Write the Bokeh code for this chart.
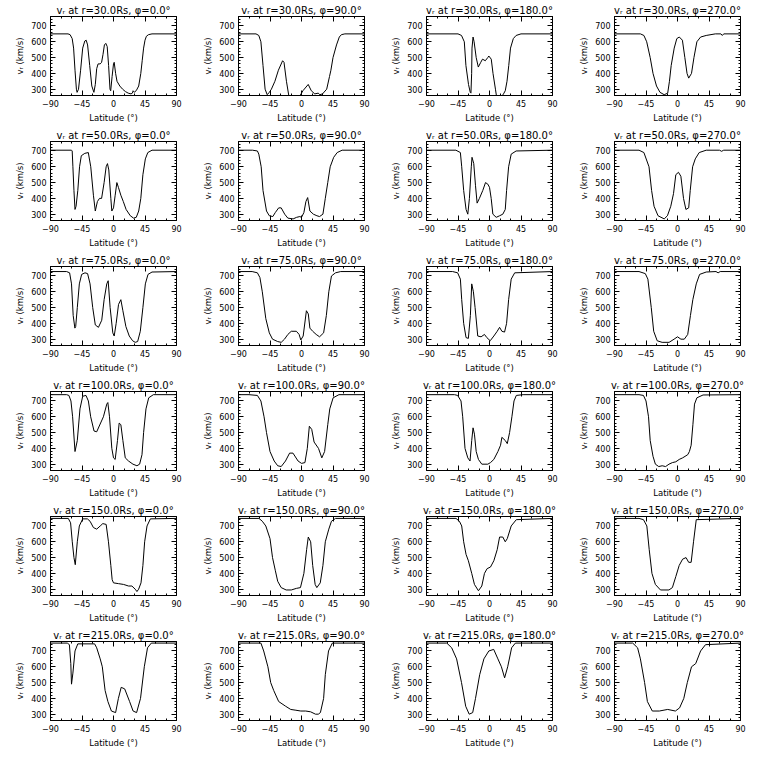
from bokeh.plotting import figure
from bokeh.layouts import gridplot
from bokeh.models import LinearAxis, FixedTicker, Range1d
from bokeh.embed import file_html
from bokeh.resources import INLINE

radii = [30.0, 50.0, 75.0, 100.0, 150.0, 215.0]
phis = [0.0, 90.0, 180.0, 270.0]
x_ticks = [-90, -45, 0, 45, 90]
x_minor = [-75, -60, -30, -15, 15, 30, 60, 75]
y_ticks = [300, 400, 500, 600, 700]
y_minor = [280, 320, 340, 360, 380, 420, 440, 460, 480, 520, 540, 560, 580,
           620, 640, 660, 680, 720, 740]

# r = 30 Rs
lat_30_0 = [-90,-65,-62,-59,-57,-55,-53,-52,-50,-47,-44,-41,-39,-37,-34,-31,-28,-26,-24,-22,-19,-17,-15,-13,-11,-9,-7,-5,-4,-2,0,1,3,5,9,13,17,21,25,27,28,30,33,36,39,41,43,45,47,50,55,90]
v_30_0 = [650,650,645,620,560,420,300,280,300,420,560,605,610,580,450,320,280,330,430,460,460,470,520,580,590,570,450,300,290,380,460,470,400,350,320,300,285,275,270,275,290,280,295,320,400,480,560,610,635,645,650,650]
lat_30_90 = [-90,-65,-61,-58,-55,-52,-49,-46,-43,-38,-33,-27,-25,-21.5,-18,-10,-2,0,2,9.6,14,19,24,26,30,36,40,42,45,50,54,57,62,90]
v_30_90 = [650,650,640,600,450,300,265,280,300,350,420,480,470,350,255,230,260,275,290,330,290,270,275,265,270,300,380,420,500,580,630,645,650,650]
lat_30_180 = [-90,-45,-40,-36,-33.7,-30,-27.5,-26.5,-25.5,-25,-23.5,-22,-19,-16,-12.5,-10,-6,-2.5,-1,2.5,5,8.5,10,14,17.5,20,22.5,25,27.5,30,34,38,45,90]
v_30_180 = [650,650,640,600,450,330,280,275,400,560,630,600,500,440,470,490,480,500,510,490,400,300,255,230,255,270,290,350,450,560,620,640,650,650]
lat_30_270 = [-90,-53,-48,-44,-39,-35,-30,-25,-19,-14,-11.5,-9,-4.7,-1,2.6,7,10.5,13.6,16,20,23.5,27.7,33,41,54,62,64,66,90]
v_30_270 = [650,650,640,600,500,400,320,280,265,275,350,450,560,620,630,610,500,400,370,400,500,600,630,640,650,650,640,650,650]

# r = 50 Rs
lat_50_0 = [-90,-60,-59,-58,-56.5,-55,-53.5,-51,-48.5,-46,-41,-36,-32.5,-28.7,-26,-23,-20,-17,-13.4,-10.5,-8.6,-6.7,-3.8,-2.4,0,2.4,4.8,7,10.5,14,18,24,28.7,32.5,36,39,42,45.5,49,55,90]
v_50_0 = [705,705,700,600,450,330,350,450,600,670,685,690,600,420,320,380,400,400,500,600,620,580,400,320,340,420,500,470,420,380,330,290,275,280,320,400,550,650,690,705,705]
lat_50_90 = [-90,-70,-63,-61,-57.6,-55,-50,-46,-41,-37.5,-32.6,-29,-24,-19.5,-12,-7,-2.4,0,3.4,6.3,8.8,12,17,22,25.8,30.6,34,37.5,41,46,51,58,90]
v_50_90 = [705,705,700,680,600,450,320,290,285,310,340,340,300,275,270,280,285,280,310,380,405,320,300,290,285,300,400,500,600,660,690,705,705]
lat_50_180 = [-90,-48,-41.6,-39.7,-36.9,-33.5,-31,-28.7,-26,-25,-22.5,-20,-17.7,-14.4,-9.6,-5.7,-2.4,0,2.4,4.8,9.6,14.4,19,22.5,24.4,27.3,31,38,90]
v_50_180 = [705,705,690,600,450,330,300,400,600,660,620,480,370,400,450,500,490,470,400,300,280,290,300,330,450,600,680,700,705]
lat_50_270 = [-90,-55,-48,-40.7,-37,-33.5,-27.8,-19,-14.4,-9.6,-5.7,-2.4,1.4,4.8,8.6,12,16,18.2,21.6,25.4,31,41,60,63,66,90]
v_50_270 = [705,705,690,600,450,350,290,270,290,350,430,550,565,540,400,330,340,450,600,650,690,705,705,698,705,705]

# r = 75 Rs
lat_75_0 = [-90,-67,-62.7,-60,-57.6,-55.2,-54,-51.7,-48.8,-45.5,-40.7,-37,-33.5,-29.7,-26,-21.5,-16.8,-13.4,-9.6,-7.6,-4.8,-1,1,3.8,7.2,10.5,13.4,17.7,22.5,27.3,31,34.5,38.3,42,45.5,49.3,55,90]
v_75_0 = [728,728,720,650,450,370,380,500,650,710,720,715,650,500,390,375,420,550,650,670,500,340,320,400,520,550,480,380,320,290,280,285,350,500,650,710,725,728]
lat_75_90 = [-90,-70.5,-63,-59.4,-56,-51,-46,-41.4,-34,-29,-24.3,-19.5,-14.6,-7.3,-3.4,-1,2.4,7,9.7,12,16,21,25.8,31.6,35.5,39,42.8,48.6,56,90]
v_75_90 = [728,728,720,690,600,430,340,300,285,280,300,330,350,350,330,295,320,480,460,370,350,330,315,340,450,600,700,720,728,728]
lat_75_180 = [-90,-52.7,-45.5,-41.6,-39.7,-36.9,-33.5,-30.2,-27.3,-25.4,-23,-20.6,-16.8,-12,-7.2,-3.8,1,6.2,11,14.4,17.7,21.5,24.4,27.3,31,36,90]
v_75_180 = [728,728,720,680,550,400,310,305,450,650,600,500,320,315,330,310,290,320,350,375,350,345,400,550,680,720,728]
lat_75_270 = [-90,-55,-46,-42.3,-37.5,-34,-29,-22,-12,-4.9,0,4.9,9.7,14.6,18.5,21.9,26.8,31.6,41,55,58,61,90]
v_75_270 = [728,728,715,680,500,350,290,280,280,300,315,300,300,330,450,550,650,710,725,728,720,728,728]

# r = 100 Rs
lat_100_0 = [-90,-67,-63.7,-60.8,-58.4,-55,-51.7,-47.9,-44,-39.3,-35.9,-32.6,-27.8,-24,-14.4,-9.6,-8.1,-5.7,-2.4,0,2.4,5.7,8.1,10.5,13.4,16.8,21.5,27.8,33.5,37.3,40.7,43,46.4,50.3,57,90]
v_100_0 = [740,740,735,700,600,380,450,650,730,735,700,600,510,505,600,680,690,600,400,340,330,450,560,550,450,340,320,300,290,300,360,500,650,720,740,740]
lat_100_90 = [-90,-75,-63,-58,-53.5,-50,-45,-39,-34,-29,-22.9,-17,-12.2,-4.9,0,4.9,8.3,11.2,14.6,18,24.3,29,33,37.5,40.4,45.2,53.5,90]
v_100_90 = [740,740,735,700,600,500,380,320,290,285,320,370,370,320,305,310,400,540,520,440,400,340,380,550,650,720,740,740]
lat_100_180 = [-90,-50,-45.5,-40.7,-38.3,-35,-31,-27.8,-25.4,-23.5,-21.5,-19,-15.8,-11,-2.4,1.4,6.2,12,15.8,17.7,22.5,25.4,28.7,32,35,38.3,48,90]
v_100_180 = [740,740,735,700,600,400,340,320,450,530,490,380,330,300,300,310,330,380,420,470,450,430,500,600,700,735,740,740]
lat_100_270 = [-90,-55,-48.6,-45,-41.4,-39,-35,-31.6,-26.8,-21.9,-17,-12.2,-7.3,-2.4,2.4,7.3,14.6,17,19.5,22,24.3,27.7,36.5,90]
v_100_270 = [740,740,735,700,600,450,350,300,285,290,285,300,310,315,330,340,360,380,420,550,680,720,738,740]

# r = 150 Rs
lat_150_0 = [-90,-64.6,-61.3,-58.9,-56.5,-54.6,-51.7,-48.8,-44,-37.3,-33.5,-28.7,-24,-19,-15.3,-10.5,-7.2,-3.8,-1.9,0,7.2,14.4,21.5,26.3,31,33.5,35.9,39.3,42,44.5,47.9,52.7,90]
v_150_0 = [748,748,720,600,500,455,600,700,745,745,730,690,680,700,715,710,600,450,360,340,335,330,320,320,300,285,300,340,450,600,700,745,748]
lat_150_90 = [-90,-60.8,-56,-51,-45,-41.4,-37.5,-34,-29,-21.9,-14.6,-7.3,-1.5,3.4,7.3,9.7,13.1,16,19.5,21.9,26.8,30.6,34,39,42.8,48.6,90]
v_150_90 = [748,748,730,700,620,500,420,350,310,295,295,305,310,400,550,630,600,450,330,310,340,450,600,680,730,748,748]
lat_150_180 = [-90,-47.9,-43,-39.7,-36.9,-33.5,-30.2,-25.4,-21.5,-15.8,-11,-7.2,-3.4,1.4,6.2,11,14.4,19,22.5,25.4,31,38.3,90]
v_150_180 = [748,748,730,700,600,520,480,400,330,290,320,400,430,440,480,550,630,630,600,620,700,740,748]
lat_150_270 = [-90,-55,-48.6,-43.8,-40.4,-36.5,-31.6,-24.3,-12.2,-7.3,-2.4,2.4,7.3,12.2,16,19.5,22.9,26.8,90]
v_150_270 = [748,748,740,700,550,400,330,295,295,310,380,450,490,500,470,470,600,740,748]

# r = 215 Rs
lat_215_0 = [-90,-66,-63,-61,-60,-58,-55,-51,-27,-24,-19,-16,-12,-8,-3,3,7,11,16,23,28,33,38.6,44,48.6,54,90]
v_215_0 = [750,750,740,620,490,560,700,745,745,720,650,600,450,380,320,310,400,470,460,380,320,310,400,600,720,750,750]
lat_215_90 = [-90,-58,-54,-48,-44,-39.7,-32.6,-22.6,-15.4,-8,-1,6,13,20,24,27,31.6,34,38.6,44,90]
v_215_90 = [750,750,700,600,500,450,380,350,330,325,320,320,315,300,300,310,400,550,700,750,750]
lat_215_180 = [-90,-61,-54,-47,-40,-34,-29,-24,-20,-14,-8,-1,6,12,17,21.6,26,31.6,37,90]
v_215_180 = [750,750,720,650,500,350,300,310,400,550,650,700,710,650,600,530,600,720,750,750]
lat_215_270 = [-90,-64,-57,-53,-47,-43,-36,-26,-14,-3,3,9,14,20,26,33,40,90]
v_215_270 = [750,750,720,650,500,380,320,320,330,320,340,400,500,600,620,700,740,750]

series = {
    (30.0, 0.0): (lat_30_0, v_30_0), (30.0, 90.0): (lat_30_90, v_30_90),
    (30.0, 180.0): (lat_30_180, v_30_180), (30.0, 270.0): (lat_30_270, v_30_270),
    (50.0, 0.0): (lat_50_0, v_50_0), (50.0, 90.0): (lat_50_90, v_50_90),
    (50.0, 180.0): (lat_50_180, v_50_180), (50.0, 270.0): (lat_50_270, v_50_270),
    (75.0, 0.0): (lat_75_0, v_75_0), (75.0, 90.0): (lat_75_90, v_75_90),
    (75.0, 180.0): (lat_75_180, v_75_180), (75.0, 270.0): (lat_75_270, v_75_270),
    (100.0, 0.0): (lat_100_0, v_100_0), (100.0, 90.0): (lat_100_90, v_100_90),
    (100.0, 180.0): (lat_100_180, v_100_180), (100.0, 270.0): (lat_100_270, v_100_270),
    (150.0, 0.0): (lat_150_0, v_150_0), (150.0, 90.0): (lat_150_90, v_150_90),
    (150.0, 180.0): (lat_150_180, v_150_180), (150.0, 270.0): (lat_150_270, v_150_270),
    (215.0, 0.0): (lat_215_0, v_215_0), (215.0, 90.0): (lat_215_90, v_215_90),
    (215.0, 180.0): (lat_215_180, v_215_180), (215.0, 270.0): (lat_215_270, v_215_270),
}

FONT = "DejaVu Sans"


def style_axis(ax, ticks, minor, show_labels):
    ax.ticker = FixedTicker(ticks=ticks, minor_ticks=minor)
    ax.major_tick_in = 5
    ax.major_tick_out = 0
    ax.minor_tick_in = 2
    ax.minor_tick_out = 0
    ax.axis_line_color = "black"
    ax.major_tick_line_color = "black"
    ax.minor_tick_line_color = "black"
    ax.axis_label_text_font = FONT
    ax.axis_label_text_font_style = "normal"
    ax.axis_label_text_color = "black"
    ax.major_label_text_font = FONT
    if show_labels:
        ax.major_label_text_color = "black"
        ax.major_label_text_font_size = "8px"
        ax.axis_label_text_font_size = "8.5px"
        ax.major_label_standoff = 4
        ax.axis_label_standoff = 3
    else:
        ax.major_label_text_color = None
        ax.major_label_text_font_size = "0px"
        ax.major_label_standoff = 0
        ax.axis_label = None


def make_panel(r, phi):
    lat, v = series[(r, phi)]
    p = figure(width=188, height=125, output_backend="svg", toolbar_location=None,
               tools="", x_range=Range1d(-90, 90), y_range=Range1d(260, 760),
               title=f"v\u1d63 at r={r:.1f}Rs, \u03c6={phi:.1f}\u00b0",
               min_border_left=50, min_border_right=12, min_border_top=16,
               min_border_bottom=29)
    p.title.align = "center"
    p.title.text_font = FONT
    p.title.text_font_size = "10px"
    p.title.text_font_style = "normal"
    p.title.text_color = "black"
    p.title.standoff = 2
    p.grid.visible = False
    p.outline_line_color = "black"
    p.background_fill_color = "white"
    p.border_fill_color = "white"
    p.xaxis.axis_label = "Latitude (\u00b0)"
    p.yaxis.axis_label = "v\u1d63 (km/s)"
    style_axis(p.xaxis[0], x_ticks, x_minor, True)
    style_axis(p.yaxis[0], y_ticks, y_minor, True)
    top = LinearAxis()
    right = LinearAxis()
    style_axis(top, x_ticks, x_minor, False)
    style_axis(right, y_ticks, y_minor, False)
    p.add_layout(top, "above")
    p.add_layout(right, "right")
    p.line(lat, v, line_color="black", line_width=1)
    return p


rows = [[make_panel(r, phi) for phi in phis] for r in radii]
grid = gridplot(rows, toolbar_location=None)

open("out.html", "w").write(file_html(grid, INLINE))
